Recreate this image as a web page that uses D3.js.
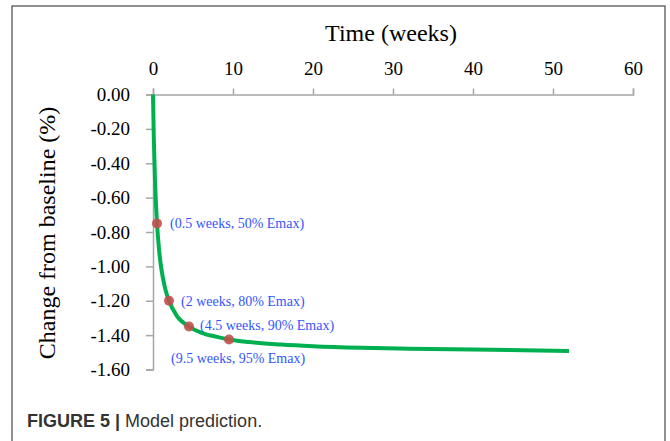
<!DOCTYPE html>
<html>
<head>
<meta charset="utf-8">
<script src="https://cdn.jsdelivr.net/npm/d3@7"></script>
<style>
  body { margin: 0; background: #fff; }
  svg { display: block; }
</style>
</head>
<body>
<script>
// curve (weeks, % change)
const weeks = [0, 0.1, 0.25, 0.5, 0.75, 1, 1.5, 2, 3, 4.5, 6, 8, 9.5, 12, 16, 20, 26, 32, 40, 52];
const change = [0, -0.25, -0.5, -0.75, -0.9, -1.0, -1.125, -1.2, -1.29, -1.35, -1.385, -1.41, -1.425,
  -1.44, -1.455, -1.465, -1.474, -1.479, -1.484, -1.492];

// marked points
const markWeeks = [0.5, 2, 4.5, 9.5];
const markChange = [-0.75, -1.2, -1.35, -1.425];
const markLabels = ['(0.5 weeks, 50% Emax)', '(2 weeks, 80% Emax)', '(4.5 weeks, 90% Emax)', '(9.5 weeks, 95% Emax)'];

const xTicks = [0, 10, 20, 30, 40, 50, 60];
const yTicks = [0, -0.2, -0.4, -0.6, -0.8, -1.0, -1.2, -1.4, -1.6];

const width = 670;
const height = 441;
const plot = { left: 153, right: 633, top: 94.5, bottom: 369.5 };

const svg = d3.select('body').append('svg')
  .attr('width', width)
  .attr('height', height);

// outer frame, runs off the bottom
svg.append('rect')
  .attr('x', 12)
  .attr('y', 6)
  .attr('width', 653)
  .attr('height', 460)
  .attr('fill', 'none')
  .attr('stroke', '#555')
  .attr('stroke-width', 1.3);

const x = d3.scaleLinear().domain([0, 60]).range([plot.left, plot.right]);
const y = d3.scaleLinear().domain([0, -1.6]).range([plot.top, plot.bottom]);

const serif = '"Liberation Serif", "Times New Roman", serif';

// top x axis
const xAxis = svg.append('g')
  .attr('transform', `translate(0, ${plot.top})`)
  .call(d3.axisTop(x).tickValues(xTicks).tickSize(6).tickPadding(14).tickFormat(d3.format('d')));

// left y axis
const yAxis = svg.append('g')
  .attr('transform', `translate(${plot.left}, 0)`)
  .call(d3.axisLeft(y).tickValues(yTicks).tickSize(7).tickPadding(16).tickFormat(d3.format('.2f')));

[xAxis, yAxis].forEach((g) => {
  g.select('.domain').attr('stroke', '#a6a6a6').attr('stroke-width', 1.5);
  g.selectAll('.tick line').attr('stroke', '#a6a6a6').attr('stroke-width', 1.5);
  g.selectAll('.tick text')
    .attr('fill', '#000')
    .style('font-family', serif)
    .style('font-size', '19px');
});
yAxis.selectAll('.tick text').text(d => d3.format('.2f')(d).replace('−', '-'));

// titles
svg.append('text')
  .attr('x', 391)
  .attr('y', 41)
  .attr('text-anchor', 'middle')
  .style('font-family', serif)
  .style('font-size', '24px')
  .text('Time (weeks)');

svg.append('text')
  .attr('transform', 'translate(55, 233) rotate(-90)')
  .attr('text-anchor', 'middle')
  .style('font-family', serif)
  .style('font-size', '24px')
  .text('Change from baseline (%)');

// curve
const curveData = weeks.map((w, i) => ({ w, v: change[i] }));
const line = d3.line()
  .x(d => x(d.w))
  .y(d => y(d.v))
  .curve(d3.curveMonotoneX);

svg.append('path')
  .datum(curveData)
  .attr('d', line)
  .attr('fill', 'none')
  .attr('stroke', '#00b050')
  .attr('stroke-width', 4);

// marked points
const marks = markWeeks.map((w, i) => ({ w, v: markChange[i], label: markLabels[i] }));
svg.selectAll('circle.mark')
  .data(marks)
  .enter()
  .append('circle')
  .attr('class', 'mark')
  .attr('cx', d => x(d.w))
  .attr('cy', d => y(d.v))
  .attr('r', 5)
  .attr('fill', '#c0504d')
  .attr('opacity', 0.9);

// label offsets relative to each point
const labelDx = [13, 12, 11, -58];
const labelDy = [5, 5, 3, 24];
svg.selectAll('text.mark-label')
  .data(marks)
  .enter()
  .append('text')
  .attr('class', 'mark-label')
  .attr('x', (d, i) => x(d.w) + labelDx[i])
  .attr('y', (d, i) => y(d.v) + labelDy[i])
  .attr('fill', '#3355ff')
  .style('font-family', serif)
  .style('font-size', '14px')
  .text(d => d.label);

// caption
const caption = svg.append('text')
  .attr('x', 27)
  .attr('y', 427)
  .attr('fill', '#333')
  .style('font-family', '"Liberation Sans", Arial, sans-serif')
  .style('font-size', '18px');
caption.append('tspan').attr('font-weight', 'bold').text('FIGURE 5 | ');
caption.append('tspan').text('Model prediction.');
</script>
</body>
</html>
